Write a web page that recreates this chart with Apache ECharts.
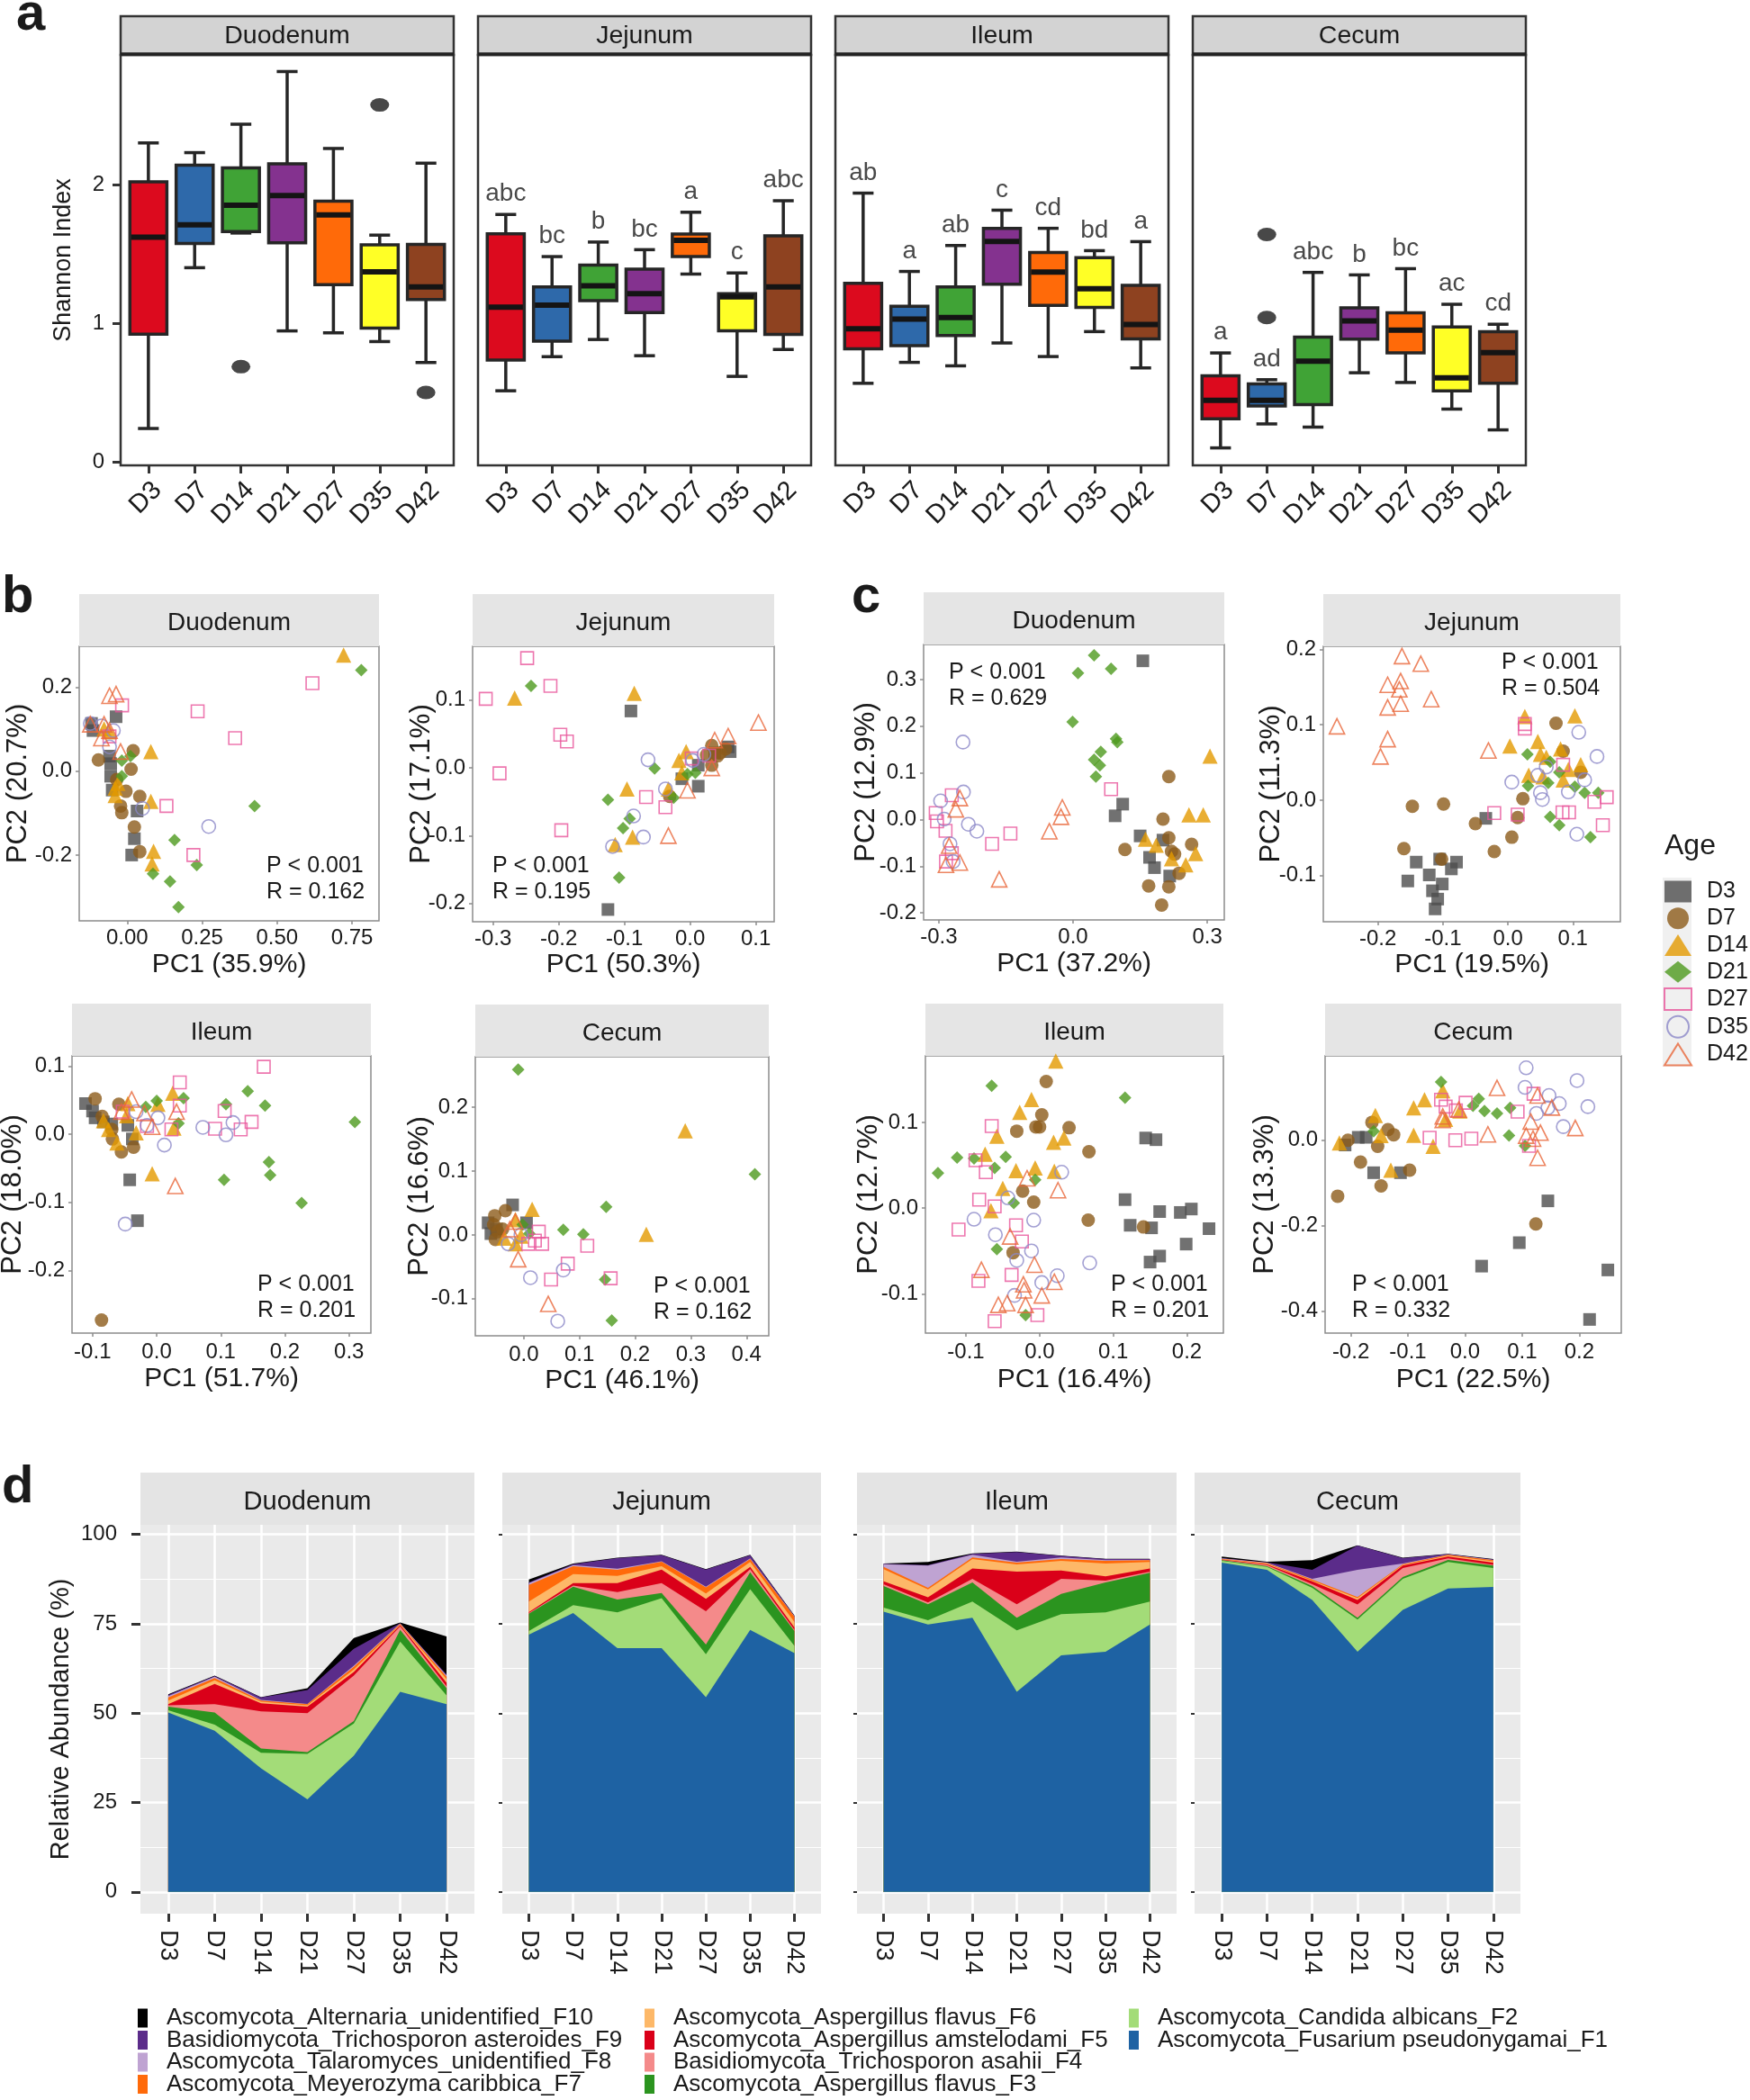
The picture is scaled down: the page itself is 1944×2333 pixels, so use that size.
<!DOCTYPE html>
<html>
<head>
<meta charset="utf-8">
<title>Fungal community by age and gut segment</title>
<script src="https://cdn.jsdelivr.net/npm/echarts@6.0.0/dist/echarts.min.js"></script>
<style>
html,body{margin:0;padding:0;background:#ffffff;}
#chart{width:1944px;height:2333px;}
</style>
</head>
<body>
<div id="chart"></div>
<script>
// ================= DATA =================
const ages = ['D3', 'D7', 'D14', 'D21', 'D27', 'D35', 'D42'];
const sites = ['Duodenum', 'Jejunum', 'Ileum', 'Cecum'];

// ---- Panel a: Shannon index, per age: [lower whisker, Q1, median, Q3, upper whisker]
const shannonDuodenum = [[0.24,0.92,1.62,2.02,2.30],[1.40,1.575,1.71,2.14,2.23],[1.65,1.66,1.85,2.12,2.435],[0.944,1.58,1.92,2.15,2.815],[0.93,1.277,1.78,1.88,2.26],[0.867,0.964,1.37,1.565,1.635],[0.716,1.17,1.262,1.568,2.154]];
const shannonJejunum  = [[0.512,0.733,1.115,1.645,1.784],[0.758,0.87,1.13,1.262,1.48],[0.882,1.163,1.27,1.419,1.585],[0.765,1.076,1.212,1.389,1.53],[1.354,1.48,1.598,1.642,1.80],[0.616,0.944,1.19,1.212,1.362],[0.81,0.919,1.262,1.63,1.883]];
const shannonIleum    = [[0.566,0.815,0.959,1.287,1.938],[0.717,0.837,1.029,1.121,1.373],[0.692,0.911,1.041,1.261,1.56],[0.857,1.281,1.59,1.684,1.815],[0.759,1.129,1.368,1.51,1.684],[0.939,1.114,1.248,1.473,1.523],[0.677,0.887,0.99,1.273,1.588]];
const shannonCecum    = [[0.10,0.31,0.443,0.62,0.785],[0.273,0.403,0.443,0.562,0.592],[0.25,0.413,0.725,0.899,1.366],[0.642,0.884,1.017,1.111,1.348],[0.572,0.785,0.949,1.074,1.393],[0.38,0.512,0.605,0.972,1.136],[0.23,0.567,0.787,0.939,0.992]];
const outliersDuodenum = [[2,0.686],[5,2.574],[6,0.50]];
const outliersJejunum = [];
const outliersIleum = [];
const outliersCecum = [[1,1.64],[1,1.041]];
const lettersDuodenum = [];
const lettersJejunum = ['abc','bc','b','bc','a','c','abc'];
const lettersIleum = ['ab','a','ab','c','cd','bd','a'];
const lettersCecum = ['a','ad','abc','b','bc','ac','cd'];
const shannonTicks = [0, 1, 2];

// ---- Panels b & c: PCoA coordinates [PC1, PC2], grouped by age D3..D42
const bDuodenumPts = [
 [[-0.037,0.130],[-0.119,0.114],[-0.114,0.097],[-0.059,0.036],[-0.055,0.018],[-0.055,-0.012],[-0.050,-0.045],[0.033,-0.095],[0.024,-0.161],[0.015,-0.200]],
 [[-0.096,0.027],[0.020,0.049],[0.013,0.005],[-0.035,-0.020],[-0.004,-0.048],[0.042,-0.060],[-0.022,-0.083],[-0.018,-0.099],[0.024,-0.133],[0.042,-0.192]],
 [[0.722,0.277],[0.079,0.047],[-0.077,0.101],[-0.059,0.094],[-0.031,-0.029],[-0.040,-0.040],[-0.040,-0.058],[0.079,-0.072],[0.088,-0.191],[0.083,-0.221]],
 [[0.781,0.241],[0.011,0.036],[-0.018,0.025],[-0.018,-0.012],[0.425,-0.083],[0.158,-0.164],[0.232,-0.224],[0.086,-0.245],[0.143,-0.263],[0.171,-0.324]],
 [[0.618,0.210],[0.235,0.143],[0.360,0.079],[-0.017,0.157],[-0.059,0.083],[0.131,-0.083],[0.221,-0.200]],
 [[-0.123,0.114],[-0.046,0.097],[-0.059,0.058],[0.051,-0.089],[0.272,-0.132],[-0.086,0.108]],
 [[-0.037,0.184],[-0.059,0.180],[-0.123,0.112],[-0.077,0.112],[-0.086,0.079],[-0.059,0.097],[-0.022,0.047]]
];
const bJejunumPts = [
 [[-0.090,0.084],[-0.125,-0.209],[0.058,0.031],[0.061,0.024],[0.0125,0.004],[-0.0125,-0.016],[0.0125,-0.027],[0.0375,0.022]],
 [[0.033,0.033],[0.046,0.022],[0.025,0.019],[0.054,0.028],[0.033,0.004],[-0.031,-0.042],[0.042,0.018]],
 [[-0.267,0.103],[-0.085,0.110],[-0.006,0.024],[-0.017,0.011],[-0.0125,-0.007],[-0.033,-0.031],[-0.096,-0.031],[-0.0875,-0.102],[-0.114,-0.113]],
 [[-0.242,0.121],[-0.054,-0.001],[-0.125,-0.047],[-0.092,-0.075],[-0.102,-0.089],[-0.108,-0.162],[-0.025,-0.044],[-0.004,-0.009],[0.008,-0.007]],
 [[-0.248,0.162],[-0.2125,0.121],[-0.311,0.102],[-0.1975,0.049],[-0.1875,0.039],[-0.29,-0.008],[-0.196,-0.092],[-0.067,-0.043],[-0.0375,-0.058],[0.0025,0.014],[0.029,0.018]],
 [[-0.064,0.012],[0.021,0.020],[-0.0375,-0.031],[-0.086,-0.071],[-0.071,-0.102],[-0.118,-0.116],[0.004,0.011]],
 [[0.104,0.067],[0.058,0.047],[0.0375,0.041],[0.033,0.0],[-0.004,-0.033],[-0.033,-0.1]]
];
const bIleumPts = [
 [[-0.111,0.045],[-0.100,0.034],[-0.096,0.024],[-0.083,0.018],[-0.070,0.015],[-0.045,0.013],[-0.038,-0.007],[-0.042,-0.067],[-0.030,-0.127]],
 [[-0.096,0.052],[-0.059,0.044],[-0.085,0.026],[-0.070,0.007],[-0.069,-0.007],[-0.055,-0.026],[-0.036,-0.019],[-0.086,-0.273]],
 [[0.025,0.060],[0.002,0.044],[-0.045,0.045],[-0.083,0.020],[-0.075,0.007],[-0.062,-0.013],[-0.032,0.002],[0.027,0.009],[-0.007,-0.058],[-0.047,0.027]],
 [[0.042,0.053],[0.0,0.049],[-0.017,0.040],[0.142,0.063],[0.108,0.044],[0.169,0.042],[0.034,0.016],[0.309,0.018],[0.175,-0.041],[0.105,-0.067],[0.177,-0.060],[0.226,-0.101]],
 [[0.167,0.099],[0.036,0.076],[0.036,0.042],[0.106,0.034],[0.148,0.018],[0.131,0.007],[0.091,0.008],[0.023,0.007],[-0.053,0.033],[-0.015,0.012]],
 [[-0.032,0.033],[0.002,0.024],[-0.015,0.013],[0.012,-0.016],[0.072,0.010],[0.108,-0.001],[0.119,0.017],[-0.049,-0.132]],
 [[-0.039,0.051],[-0.055,0.033],[0.031,0.033],[-0.007,0.011],[0.029,-0.076],[-0.019,0.031]]
];
const bCecumPts = [
 [[-0.020,0.047],[-0.064,0.019],[0.005,0.019],[-0.059,0.002],[-0.049,0.009]],
 [[-0.033,0.038],[-0.052,0.030],[-0.054,0.016],[-0.047,0.005],[-0.051,-0.007],[-0.038,0.009]],
 [[0.015,0.040],[-0.015,0.024],[0.290,0.163],[0.220,0.001],[-0.005,-0.002],[-0.015,-0.014],[-0.035,-0.005]],
 [[-0.010,0.259],[0.415,0.095],[0.148,0.044],[0.071,0.008],[0.107,0.001],[0.010,0.002],[-0.002,0.016],[0.146,-0.070],[0.158,-0.134]],
 [[0.027,0.005],[0.020,-0.009],[0.033,-0.014],[0.114,-0.017],[0.079,-0.045],[0.049,-0.070],[0.156,-0.068],[0.008,-0.014]],
 [[-0.028,-0.014],[0.012,-0.067],[0.071,-0.055],[0.061,-0.135],[-0.005,0.0]],
 [[-0.010,-0.038],[0.044,-0.108],[-0.015,0.021],[-0.025,0.009]]
];
const cDuodenumPts = [
 [[0.156,0.340],[0.111,0.033],[0.094,0.008],[0.150,-0.035],[0.201,-0.044],[0.171,-0.081],[0.182,-0.103],[0.216,-0.121]],
 [[0.214,0.092],[0.201,0.001],[0.214,-0.039],[0.116,-0.064],[0.220,-0.068],[0.227,-0.074],[0.265,-0.053],[0.237,-0.115],[0.169,-0.142],[0.214,-0.144],[0.198,-0.183]],
 [[0.306,0.136],[0.259,0.010],[0.291,0.010],[0.162,-0.042],[0.186,-0.055],[0.220,-0.084],[0.274,-0.073],[0.252,-0.097]],
 [[0.047,0.352],[0.085,0.323],[0.011,0.314],[-0.001,0.209],[0.096,0.173],[0.099,0.166],[0.062,0.145],[0.047,0.128],[0.060,0.116],[0.051,0.092]],
 [[0.085,0.065],[-0.271,0.052],[-0.307,0.014],[-0.304,-0.004],[-0.285,-0.024],[-0.140,-0.030],[-0.181,-0.052],[-0.271,-0.072],[-0.284,-0.090]],
 [[-0.246,0.166],[-0.245,0.059],[-0.296,0.040],[-0.288,0.001],[-0.234,-0.010],[-0.215,-0.025],[-0.275,-0.052],[-0.268,-0.090]],
 [[-0.253,0.046],[-0.262,0.022],[-0.024,0.026],[-0.027,0.006],[-0.053,-0.025],[-0.277,-0.056],[-0.253,-0.092],[-0.284,-0.097],[-0.165,-0.128]]
];
const cJejunumPts = [
 [[-0.034,-0.024],[-0.141,-0.082],[-0.105,-0.078],[-0.079,-0.082],[-0.087,-0.091],[-0.121,-0.099],[-0.154,-0.107],[-0.101,-0.111],[-0.116,-0.120],[-0.108,-0.131],[-0.112,-0.144]],
 [[0.074,0.102],[0.023,0.002],[-0.147,-0.008],[-0.099,-0.005],[-0.050,-0.031],[0.015,-0.023],[0.006,-0.049],[-0.021,-0.068],[-0.160,-0.064],[-0.102,-0.078],[0.112,0.037],[0.085,0.065]],
 [[0.026,0.111],[0.103,0.112],[0.003,0.072],[0.046,0.078],[0.081,0.068],[0.050,0.061],[0.059,0.057],[0.112,0.047],[0.093,0.041],[0.085,0.027],[0.032,0.033],[0.054,0.031]],
 [[0.030,0.061],[0.065,0.051],[0.079,0.037],[0.031,0.019],[0.062,0.023],[0.103,0.018],[0.118,0.010],[0.139,0.010],[0.065,-0.022],[0.079,-0.033],[0.127,-0.049]],
 [[0.026,0.101],[0.026,0.095],[0.085,0.047],[-0.021,-0.017],[0.015,-0.019],[0.084,-0.016],[0.094,-0.016],[0.133,-0.002],[0.152,0.004],[0.146,-0.033]],
 [[0.109,0.090],[0.137,0.058],[0.059,0.044],[0.046,0.033],[0.006,0.024],[0.050,0.010],[0.053,0.001],[0.093,0.011],[0.118,0.027],[0.106,-0.045]],
 [[-0.163,0.191],[-0.134,0.181],[-0.185,0.153],[-0.165,0.158],[-0.167,0.147],[-0.185,0.123],[-0.165,0.128],[-0.118,0.134],[-0.263,0.098],[-0.185,0.081],[-0.196,0.058],[-0.030,0.066]]
];
const cIleumPts = [
 [[0.144,0.082],[0.158,0.080],[0.116,0.010],[0.163,-0.004],[0.191,-0.005],[0.206,-0.001],[0.123,-0.020],[0.152,-0.023],[0.230,-0.024],[0.199,-0.042],[0.163,-0.056],[0.150,-0.063]],
 [[0.009,0.148],[0.003,0.109],[-0.031,0.090],[-0.005,0.095],[0.000,0.095],[0.040,0.094],[0.067,0.066],[-0.023,0.020],[-0.008,0.007],[0.066,-0.014],[0.141,-0.022],[-0.036,-0.052]],
 [[0.022,0.172],[-0.011,0.127],[-0.027,0.112],[-0.058,0.084],[0.019,0.077],[0.033,0.082],[-0.074,0.063],[-0.032,0.044],[-0.006,0.047],[0.020,0.043],[-0.050,0.023],[-0.066,-0.003]],
 [[-0.065,0.143],[0.116,0.129],[-0.138,0.041],[-0.112,0.059],[-0.089,0.058],[-0.046,0.060],[-0.061,0.047],[-0.006,0.033],[-0.035,0.006],[-0.058,-0.048],[-0.019,-0.125]],
 [[-0.065,0.096],[-0.087,0.056],[-0.073,0.042],[-0.082,0.010],[-0.061,0.002],[-0.110,-0.025],[-0.032,-0.020],[-0.024,-0.039],[-0.083,-0.085],[-0.038,-0.078],[-0.003,-0.125],[-0.061,-0.132]],
 [[0.030,0.042],[-0.043,0.012],[-0.089,-0.013],[-0.008,-0.014],[-0.060,-0.031],[-0.011,-0.050],[-0.031,-0.061],[0.068,-0.064],[0.024,-0.079],[0.003,-0.087],[-0.034,-0.102]],
 [[-0.017,0.035],[0.025,0.021],[-0.040,-0.033],[-0.079,-0.072],[-0.007,-0.066],[-0.022,-0.089],[0.003,-0.102],[-0.021,-0.096],[-0.056,-0.113],[-0.044,-0.111],[-0.019,-0.113],[0.020,-0.086]]
];
const cCecumPts = [
 [[-0.210,-0.011],[-0.187,0.007],[-0.173,0.007],[-0.160,-0.076],[-0.113,-0.076],[0.145,-0.142],[0.095,-0.240],[0.029,-0.295],[0.250,-0.304],[0.218,-0.420]],
 [[-0.163,0.042],[-0.135,0.025],[-0.125,0.013],[-0.205,0.0],[-0.153,-0.014],[-0.183,-0.051],[-0.097,-0.070],[-0.147,-0.107],[-0.223,-0.131],[0.124,-0.196]],
 [[-0.039,0.116],[-0.071,0.095],[-0.090,0.076],[-0.157,0.058],[-0.147,0.011],[-0.090,0.012],[-0.056,-0.014],[-0.220,-0.006],[-0.130,-0.070],[-0.034,0.049],[-0.009,0.069]],
 [[-0.042,0.137],[0.024,0.097],[0.014,0.081],[0.034,0.069],[0.056,0.063],[0.079,0.076],[0.077,0.011],[-0.160,0.021],[0.105,-0.013]],
 [[-0.042,0.095],[-0.034,0.079],[-0.016,0.070],[0.001,0.088],[0.092,0.067],[0.120,0.109],[-0.062,0.006],[-0.017,0.0],[0.011,0.004],[0.112,-0.013]],
 [[0.107,0.170],[0.196,0.140],[0.105,0.124],[0.147,0.105],[0.165,0.086],[0.215,0.079],[0.145,0.076],[0.125,0.063],[0.172,0.032]],
 [[0.056,0.123],[0.127,0.105],[0.152,0.077],[-0.039,0.056],[-0.039,0.048],[-0.011,0.072],[0.040,0.014],[0.115,0.044],[0.132,0.018],[0.193,0.029],[0.107,0.011],[0.119,0.004],[0.127,-0.041]]
];
const pcSites = ['Duodenum','Jejunum','Ileum','Cecum','Duodenum','Jejunum','Ileum','Cecum'];
const pcStats = [['P < 0.001','R = 0.162'],['P < 0.001','R = 0.195'],['P < 0.001','R = 0.201'],['P < 0.001','R = 0.162'],['P < 0.001','R = 0.629'],['P < 0.001','R = 0.504'],['P < 0.001','R = 0.201'],['P < 0.001','R = 0.332']];
const pcXNames = ['PC1 (35.9%)','PC1 (50.3%)','PC1 (51.7%)','PC1 (46.1%)','PC1 (37.2%)','PC1 (19.5%)','PC1 (16.4%)','PC1 (22.5%)'];
const pcYNames = ['PC2 (20.7%)','PC2 (17.1%)','PC2 (18.0%)','PC2 (16.6%)','PC2 (12.9%)','PC2 (11.3%)','PC2 (12.7%)','PC2 (13.3%)'];
const pcXTicks = [[0,0.25,0.5,0.75],[-0.3,-0.2,-0.1,0,0.1],[-0.1,0,0.1,0.2,0.3],[0,0.1,0.2,0.3,0.4],[-0.3,0,0.3],[-0.2,-0.1,0,0.1],[-0.1,0,0.1,0.2],[-0.2,-0.1,0,0.1,0.2]];
const pcYTicks = [[-0.2,0,0.2],[-0.2,-0.1,0,0.1],[-0.2,-0.1,0,0.1],[-0.1,0,0.1,0.2],[-0.2,-0.1,0,0.1,0.2,0.3],[-0.1,0,0.1,0.2],[-0.1,0,0.1],[-0.4,-0.2,0]];

// ---- Panel d: relative abundance (%), rows F1..F10, columns D3..D42
const taxa = ['Ascomycota_Fusarium pseudonygamai_F1','Ascomycota_Candida albicans_F2','Ascomycota_Aspergillus flavus_F3','Basidiomycota_Trichosporon asahii_F4','Ascomycota_Aspergillus amstelodami_F5','Ascomycota_Aspergillus flavus_F6','Ascomycota_Meyerozyma caribbica_F7','Ascomycota_Talaromyces_unidentified_F8','Basidiomycota_Trichosporon asteroides_F9','Ascomycota_Alternaria_unidentified_F10'];
const duodenumAbund = [
 [50.2,45.1,34.6,25.9,38.1,56.0,52.5],
 [0.6,1.7,4.3,12.7,9.0,14.0,2.5],
 [1.0,3.4,1.2,0.5,0.7,3.3,2.0],
 [0.4,2.3,10.4,10.9,12.7,1.0,0.5],
 [0.3,5.7,2.3,1.8,1.0,0.3,1.0],
 [1.0,1.0,0.4,0.4,0.7,0.2,1.0],
 [0.9,0.6,0.3,0.3,0.8,0.2,0.7],
 [0.4,0.4,0.2,0.1,0.3,0.1,0.3],
 [0.3,0.2,0.7,3.9,4.7,0.1,0.3],
 [0.2,0.1,0.1,0.5,3.0,0.2,10.7]
];
const jejunumAbund = [
 [72.0,78.0,68.2,68.2,54.5,73.3,66.8],
 [1.0,2.2,10.0,14.0,12.0,11.4,2.0],
 [4.8,5.2,3.6,1.4,2.7,4.7,4.2],
 [0.2,0.3,2.1,2.8,9.3,0.9,0.3],
 [0.3,0.7,2.5,3.8,3.5,0.6,0.7],
 [2.9,2.5,2.0,0.9,1.5,1.4,1.5],
 [4.7,2.2,1.7,1.3,1.7,0.8,1.5],
 [0.5,0.3,0.3,0.1,0.2,0.2,0.1],
 [0.2,0.3,3.0,1.7,4.8,0.9,0.1],
 [0.8,0.2,0.1,0.1,0.1,0.1,0.1]
];
const ileumAbund = [
 [78.4,74.8,76.7,56.0,66.2,67.2,74.8],
 [1.1,1.2,4.5,17.2,11.5,11.0,6.4],
 [6.1,4.5,5.4,3.5,5.7,8.4,8.1],
 [0.5,0.5,1.0,3.8,4.2,0.5,0.3],
 [0.8,1.4,2.9,9.1,2.3,1.2,0.9],
 [3.4,2.2,2.6,2.0,2.7,3.6,1.8],
 [0.6,0.5,0.5,0.5,0.5,0.7,0.5],
 [0.8,6.2,0.7,0.3,0.5,0.2,0.1],
 [0.1,0.1,0.3,2.7,0.4,0.3,0.2],
 [0.1,0.9,0.1,0.1,0.1,0.1,0.1]
];
const cecumAbund = [
 [92.1,90.1,81.7,67.2,78.9,84.9,85.3],
 [0.5,0.8,3.4,9.0,8.7,7.4,5.3],
 [0.2,0.2,0.5,0.5,0.5,0.6,0.7],
 [0.1,0.3,0.5,3.7,2.5,0.4,0.2],
 [0.1,0.2,0.8,1.3,0.7,0.5,0.6],
 [0.1,0.2,0.2,0.5,0.2,0.3,0.4],
 [0.1,0.2,0.3,0.3,0.2,0.2,0.3],
 [0.1,0.1,0.2,7.6,0.2,0.1,0.1],
 [0.1,0.1,2.5,6.8,1.5,0.1,0.1],
 [0.4,0.2,2.7,0.1,0.1,0.1,0.1]
];
const abundTicks = [0, 25, 50, 75, 100];
const abundMinorTicks = [12.5, 37.5, 62.5, 87.5];

// ================= STYLE / LAYOUT =================
const FONT = "'Liberation Sans', Arial, Helvetica, sans-serif";
const TXT = '#1a1a1a';
const boxFill = ['#DC0A1E','#2E69AA','#40A336','#84328F','#FF6A09','#FFFF26','#8E4220'];
const ageMarks = [
  {symbol:'rect', size:14, fill:'#4D4D4D'},
  {symbol:'circle', size:15, fill:'#8C5B1A'},
  {symbol:'triangle', size:17, fill:'#E39A00'},
  {symbol:'diamond', size:14, fill:'#4E9A1E'},
  {symbol:'rect', size:14, open:'#E8559B'},
  {symbol:'circle', size:15, open:'#8C88C8'},
  {symbol:'triangle', size:17, open:'#E8673A'}
];
const taxaColors = ['#1E62A3','#A3DC78','#2B941F','#F48A8A','#DA0019','#FDB868','#FF6A0A','#BFA3D2','#5B2C8A','#000000'];

const grids = [], xAxis = [], yAxis = [], series = [], graphic = [], legend = [];

function addRect(x, y, w, h, fill, stroke, lw) {
  graphic.push({type:'rect', silent:true, z:1, shape:{x:x, y:y, width:w, height:h},
    style:{fill:fill, stroke:stroke || null, lineWidth:lw || 0}});
}
function addLine(x1, y1, x2, y2, color, lw) {
  graphic.push({type:'line', silent:true, z:2, shape:{x1:x1, y1:y1, x2:x2, y2:y2}, style:{stroke:color, lineWidth:lw}});
}
function addText(x, y, text, size, align, weight) {
  const a = align || 'left';
  graphic.push({type:'text', silent:true, z:10, x:x, y:y,
    style:{text:text, fontSize:size, fontFamily:FONT, fontWeight:weight || 'normal', fill:TXT,
           align:a, verticalAlign:'middle', textAlign:a, textVerticalAlign:'middle'}});
}
function fmtTick(v, d) { const s = Number(v).toFixed(d); return /^-0\.0+$/.test(s) ? s.slice(1) : s; }
function mkGrid(o) { return Object.assign({show:true, containLabel:false, outerBoundsMode:'none'}, o); }
const NOLINE = {show:false, onZero:false};
const idx7 = ages.map(function (_, i) { return i; });

// ---------- Panel a ----------
const aLeft = [134, 531, 928, 1325], aW = 370, aTop = 61, aH = 456;
const shannonSets = [shannonDuodenum, shannonJejunum, shannonIleum, shannonCecum];
const outlierSets = [outliersDuodenum, outliersJejunum, outliersIleum, outliersCecum];
const letterSets = [lettersDuodenum, lettersJejunum, lettersIleum, lettersCecum];

function renderBox(params, api) {
  const i = api.value(0);
  const p = [1, 2, 3, 4, 5].map(function (d) { return api.coord([i, api.value(d)]); });
  const cx = p[0][0];
  const bw = api.size([0.8, 0])[0];
  const cw = api.size([0.45, 0])[0];
  const ln = {stroke:'#262626', lineWidth:3.5};
  return {type:'group', children:[
    {type:'line', shape:{x1:cx, y1:p[0][1], x2:cx, y2:p[1][1]}, style:ln},
    {type:'line', shape:{x1:cx, y1:p[3][1], x2:cx, y2:p[4][1]}, style:ln},
    {type:'line', shape:{x1:cx - cw / 2, y1:p[0][1], x2:cx + cw / 2, y2:p[0][1]}, style:ln},
    {type:'line', shape:{x1:cx - cw / 2, y1:p[4][1], x2:cx + cw / 2, y2:p[4][1]}, style:ln},
    {type:'rect', shape:{x:cx - bw / 2, y:p[3][1], width:bw, height:p[1][1] - p[3][1]},
      style:{fill:boxFill[i], stroke:'#262626', lineWidth:3.5}},
    {type:'line', shape:{x1:cx - bw / 2 + 1.5, y1:p[2][1], x2:cx + bw / 2 - 1.5, y2:p[2][1]},
      style:{stroke:'#141414', lineWidth:6}}
  ]};
}

sites.forEach(function (site, k) {
  const g = grids.length;
  grids.push(mkGrid({left:aLeft[k], top:aTop, width:aW, height:aH, backgroundColor:'#ffffff', borderColor:'#333333', borderWidth:2.5}));
  xAxis.push({gridIndex:g, type:'value', min:-0.6, max:6.6,
    axisLine:NOLINE, splitLine:{show:false},
    axisTick:{show:true, customValues:idx7, length:9, lineStyle:{color:'#333333', width:3}},
    axisLabel:{show:true, customValues:idx7, formatter:function (v) { return ages[Math.round(v)] || ''; },
      rotate:45, align:'right', verticalAlign:'top', fontSize:29, color:TXT, margin:13, fontFamily:FONT}});
  yAxis.push({gridIndex:g, type:'value', min:-0.026, max:2.935,
    axisLine:NOLINE, splitLine:{show:false},
    axisTick:{show:k === 0, customValues:shannonTicks, length:9, lineStyle:{color:'#333333', width:3}},
    axisLabel:{show:k === 0, customValues:shannonTicks, fontSize:24, color:TXT, margin:18, fontFamily:FONT},
    name:k === 0 ? 'Shannon Index' : '', nameLocation:'middle', nameGap:50, nameRotate:90, nameMoveOverlap:false,
    nameTextStyle:{fontSize:27, color:TXT, fontFamily:FONT}});
  series.push({type:'custom', xAxisIndex:g, yAxisIndex:g, renderItem:renderBox, silent:true, z:3,
    encode:{x:0, y:[1, 2, 3, 4, 5]},
    data:shannonSets[k].map(function (s, i) { return [i].concat(s); })});
  series.push({type:'scatter', xAxisIndex:g, yAxisIndex:g, symbol:'circle', symbolSize:[21, 15], silent:true, z:4,
    itemStyle:{color:'#1a1a1a'}, data:outlierSets[k]});
  series.push({type:'scatter', xAxisIndex:g, yAxisIndex:g, symbolSize:1, silent:true, z:5,
    itemStyle:{color:'rgba(0,0,0,0)'},
    label:{show:true, position:'top', distance:8, fontSize:28, color:TXT, fontFamily:FONT,
      formatter:function (p) { return p.data.letter; }},
    data:letterSets[k].map(function (t, i) { return {value:[i, shannonSets[k][i][4]], letter:t}; })});
  addRect(aLeft[k], 18, aW, 43, '#D3D3D3', '#333333', 2.5);
  addLine(aLeft[k], 60, aLeft[k] + aW, 60, '#222222', 3.5);
  addText(aLeft[k] + aW / 2, 40, site, 28.5, 'center');
});

// ---------- Panels b & c ----------
const pcPts = [bDuodenumPts, bJejunumPts, bIleumPts, bCecumPts, cDuodenumPts, cJejunumPts, cIleumPts, cCecumPts];
const pcLayout = [
  {left:88,   top:718,  w:333, h:305, x:[-0.16, 0.84],    y:[-0.357, 0.298], xd:2, gy:52.5, gx:34, lm:7, sx:296,  sy:962},
  {left:525,  top:718,  w:335, h:306, x:[-0.331, 0.128],  y:[-0.227, 0.1795], xd:1, gy:41.5, gx:33, lm:7, sx:547, sy:962},
  {left:80,   top:1173, w:332, h:308, x:[-0.132, 0.334],  y:[-0.292, 0.115], xd:1, gy:50.5, gx:36, lm:9, sx:286,  sy:1427},
  {left:528,  top:1174, w:326, h:310, x:[-0.087, 0.44],   y:[-0.158, 0.279], xd:1, gy:46.5, gx:35, lm:9, sx:726,  sy:1429},
  {left:1026, top:716,  w:334, h:306, x:[-0.334, 0.338],  y:[-0.215, 0.375], xd:1, gy:48.5, gx:34, lm:7, sx:1054, sy:747},
  {left:1470, top:718,  w:330, h:306, x:[-0.284, 0.173],  y:[-0.161, 0.204], xd:1, gy:42.5, gx:33, lm:7, sx:1668, sy:736},
  {left:1028, top:1173, w:331, h:308, x:[-0.155, 0.2495], y:[-0.146, 0.178], xd:1, gy:47.5, gx:37, lm:9, sx:1234, sy:1427},
  {left:1472, top:1173, w:329, h:308, x:[-0.245, 0.2735], y:[-0.452, 0.198], xd:1, gy:51,   gx:37, lm:9, sx:1502, sy:1427}
];
pcLayout.forEach(function (L, p) {
  const g = grids.length;
  grids.push(mkGrid({left:L.left, top:L.top, width:L.w, height:L.h, backgroundColor:'#ffffff', borderColor:'#8c8c8c', borderWidth:1.5}));
  xAxis.push({gridIndex:g, type:'value', min:L.x[0], max:L.x[1],
    axisLine:NOLINE, splitLine:{show:false},
    axisTick:{show:true, customValues:pcXTicks[p], length:4, lineStyle:{color:'#8c8c8c', width:1.5}},
    axisLabel:{customValues:pcXTicks[p], formatter:(function (d) { return function (v) { return fmtTick(v, d); }; })(L.xd),
      fontSize:24, color:TXT, margin:L.lm, fontFamily:FONT},
    name:pcXNames[p], nameLocation:'middle', nameGap:L.gx, nameMoveOverlap:false,
    nameTextStyle:{fontSize:30, color:TXT, fontFamily:FONT}});
  yAxis.push({gridIndex:g, type:'value', min:L.y[0], max:L.y[1],
    axisLine:NOLINE, splitLine:{show:false},
    axisTick:{show:true, customValues:pcYTicks[p], length:4, lineStyle:{color:'#8c8c8c', width:1.5}},
    axisLabel:{customValues:pcYTicks[p], formatter:function (v) { return fmtTick(v, 1); },
      fontSize:24, color:TXT, margin:8, fontFamily:FONT},
    name:pcYNames[p], nameLocation:'middle', nameGap:L.gy, nameRotate:90, nameMoveOverlap:false,
    nameTextStyle:{fontSize:31, color:TXT, fontFamily:FONT}});
  ages.forEach(function (age, ai) {
    const m = ageMarks[ai];
    series.push({type:'scatter', name:age, xAxisIndex:g, yAxisIndex:g, symbol:m.symbol, symbolSize:m.size,
      silent:true, z:3,
      itemStyle:m.open ? {color:'rgba(255,255,255,0)', borderColor:m.open, borderWidth:1.6} : {color:m.fill},
      data:pcPts[p][ai]});
  });
  addRect(L.left, L.top - 58, L.w, 58, '#E5E5E5');
  addText(L.left + L.w / 2, L.top - 26, pcSites[p], 28, 'center');
  addText(L.sx, L.sy, pcStats[p][0], 25, 'left');
  addText(L.sx, L.sy + 29, pcStats[p][1], 25, 'left');
});

// Age legend
addRect(1847, 975, 32, 210, '#F0F0F0');
addText(1849, 940, 'Age', 32, 'left');
legend.push({data:ages, orient:'vertical', left:1848, top:978, height:230, padding:0, itemWidth:30, itemHeight:24, itemGap:4.75,
  selectedMode:false, textStyle:{fontSize:25, color:TXT, fontFamily:FONT, padding:[0, 0, 0, 12]}});

// ---------- Panel d ----------
const dLeft = [156, 558, 952, 1327], dW = [371, 354, 355, 362], dTop = 1694, dH = 432;
const abundSets = [duodenumAbund, jejunumAbund, ileumAbund, cecumAbund];
sites.forEach(function (site, k) {
  const g = grids.length;
  grids.push(mkGrid({left:dLeft[k], top:dTop, width:dW[k], height:dH, backgroundColor:'#EAEAEA', borderWidth:0, borderColor:'transparent'}));
  xAxis.push({gridIndex:g, type:'value', min:-0.6, max:6.6,
    axisLine:NOLINE,
    splitLine:{show:true, lineStyle:{color:'#ffffff', width:2.5}},
    axisTick:{show:true, customValues:idx7, length:9, lineStyle:{color:'#333333', width:3}},
    axisLabel:{customValues:idx7, formatter:function (v) { return ages[Math.round(v)] || ''; },
      rotate:-90, align:'left', verticalAlign:'middle', fontSize:27, color:TXT, margin:18, fontFamily:FONT}});
  const yMain = yAxis.length;
  yAxis.push({gridIndex:g, type:'value', min:-6.1, max:102.7,
    axisLine:NOLINE,
    splitLine:{show:true, lineStyle:{color:'#ffffff', width:2.5}},
    axisTick:{show:true, customValues:abundTicks, length:k === 0 ? 10 : 4, lineStyle:{color:'#333333', width:k === 0 ? 3 : 2}},
    axisLabel:{show:k === 0, customValues:abundTicks, fontSize:24, color:TXT, margin:26, fontFamily:FONT},
    name:k === 0 ? 'Relative Abundance (%)' : '', nameLocation:'middle', nameGap:74, nameRotate:90, nameMoveOverlap:false,
    nameTextStyle:{fontSize:29, color:TXT, fontFamily:FONT}});
  yAxis.push({gridIndex:g, type:'value', min:-6.1, max:102.7, position:'left',
    axisLine:NOLINE, axisLabel:{show:false},
    axisTick:{show:false, customValues:abundMinorTicks},
    splitLine:{show:true, lineStyle:{color:'#ffffff', width:1.2}}});
  // cumulative tops of the stacked layers (F1 at bottom ... F10 on top)
  const cum = [];
  let run = idx7.map(function () { return 0; });
  abundSets[k].forEach(function (row) {
    run = run.map(function (r, i) { return r + row[i]; });
    cum.push(run.slice());
  });
  // draw the highest cumulative layer first, each filled down to 0, lower layers painted over it
  for (let t = taxa.length - 1; t >= 0; t--) {
    series.push({type:'line', name:taxa[t], xAxisIndex:g, yAxisIndex:yMain,
      symbol:'none', showSymbol:false, silent:true, z:3,
      lineStyle:{width:0}, itemStyle:{color:taxaColors[t]},
      areaStyle:{color:taxaColors[t], opacity:1, origin:0},
      data:cum[t].map(function (v, i) { return [i, v]; })});
  }
  addRect(dLeft[k], 1636, dW[k], 58, '#E4E4E4');
  addText(dLeft[k] + dW[k] / 2, 1669, site, 29, 'center');
});

// taxa legend (3 columns)
const legendCols = [[taxa[9], taxa[8], taxa[7], taxa[6]], [taxa[5], taxa[4], taxa[3], taxa[2]], [taxa[1], taxa[0]]];
const legendLefts = [153, 716, 1254];
legendCols.forEach(function (col, c) {
  legend.push({data:col, orient:'vertical', left:legendLefts[c], top:2229, height:140, padding:0, icon:'rect',
    itemWidth:11, itemHeight:21, itemGap:-1.5, selectedMode:false,
    textStyle:{fontSize:26, color:TXT, fontFamily:FONT, padding:[0, 0, 0, 16]}});
});

// panel letters
addText(18, 17, 'a', 58, 'left', 'bold');
addText(2, 664, 'b', 58, 'left', 'bold');
addText(946, 664, 'c', 58, 'left', 'bold');
addText(2, 1653, 'd', 58, 'left', 'bold');

const chart = echarts.init(document.getElementById('chart'), null, {renderer:'canvas', width:1944, height:2333});
chart.setOption({
  animation:false,
  backgroundColor:'#ffffff',
  textStyle:{fontFamily:FONT},
  grid:grids, xAxis:xAxis, yAxis:yAxis, series:series, legend:legend,
  graphic:{elements:graphic}
});
</script>
</body>
</html>
